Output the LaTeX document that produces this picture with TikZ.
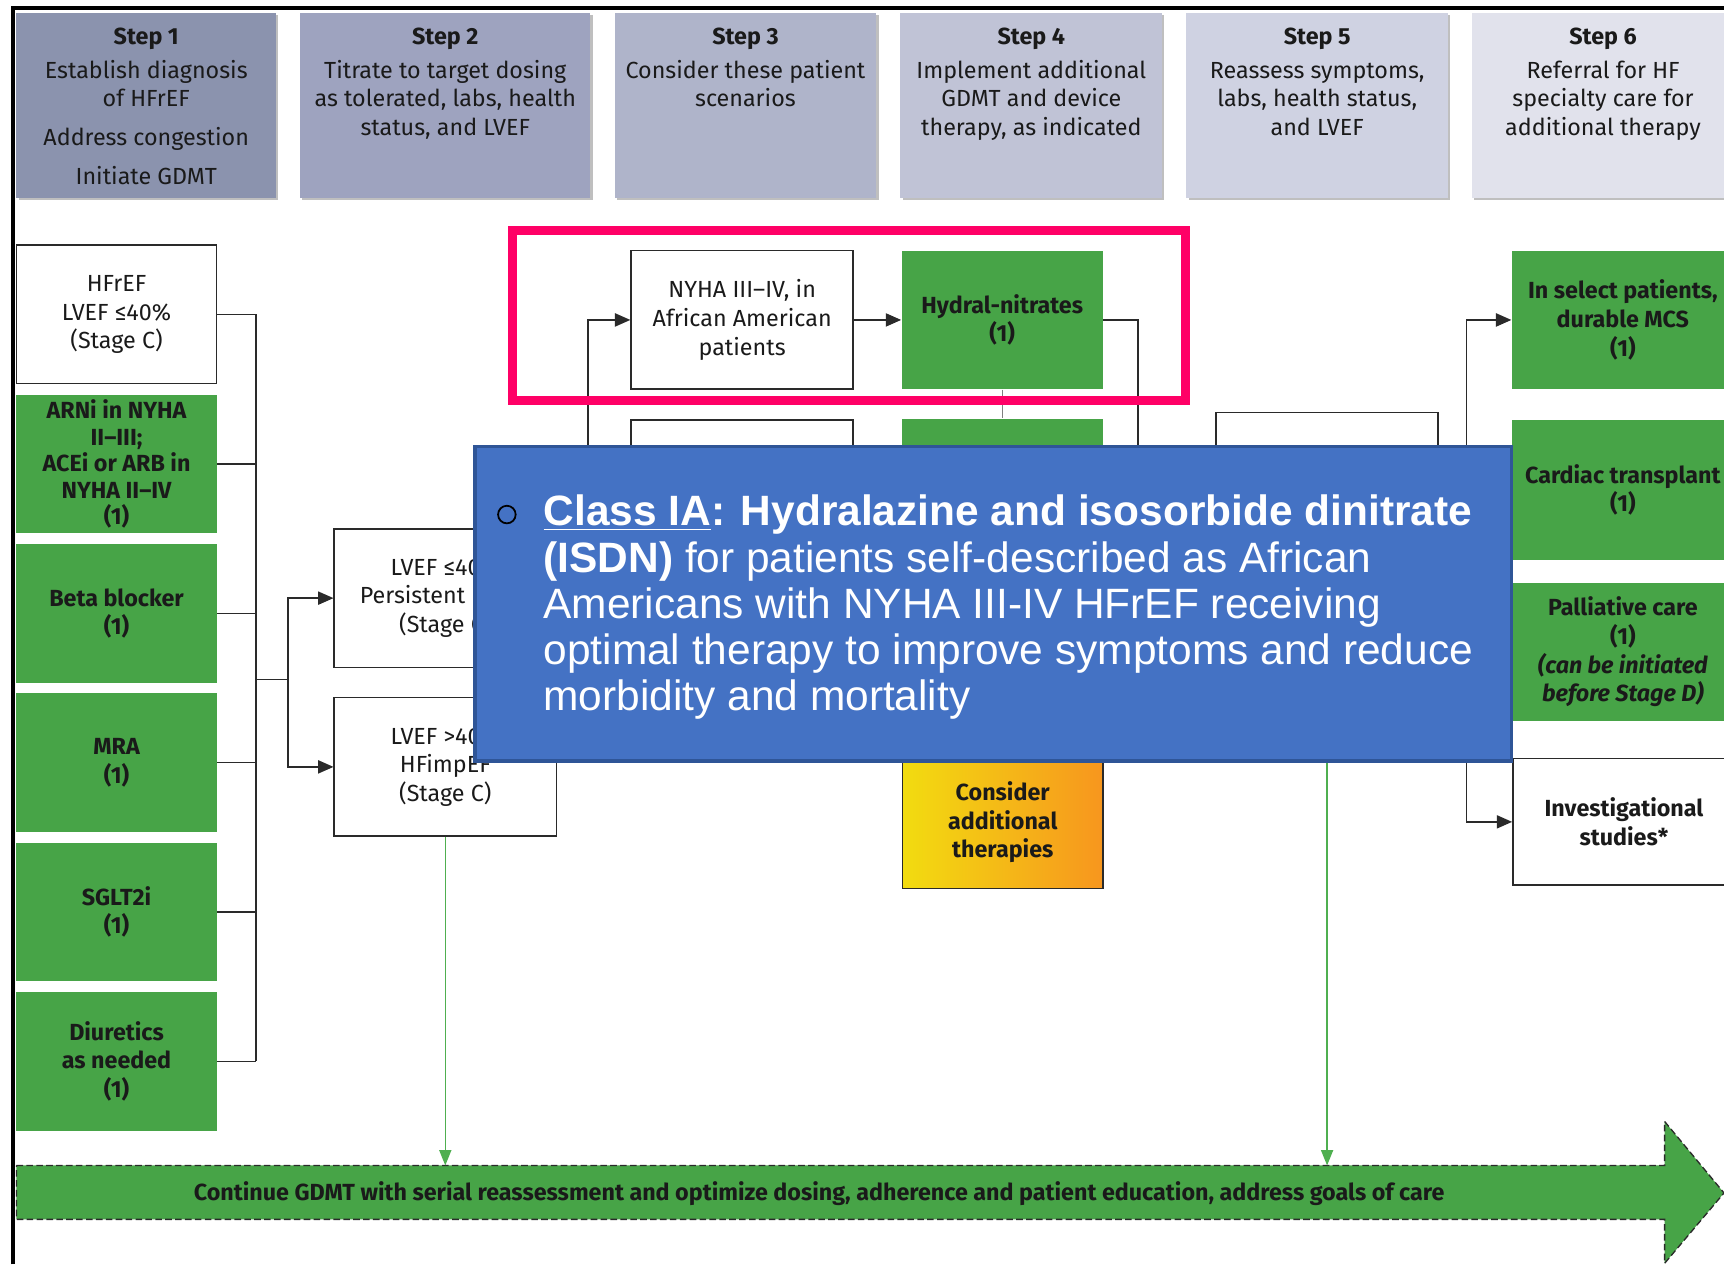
\documentclass[tikz,border=0pt]{standalone}
\usepackage{fontspec}
\setmainfont{Fira Sans}
\newfontfamily\arialfont{Liberation Sans}
\usetikzlibrary{arrows.meta,positioning,shadows}
\definecolor{StepA}{HTML}{8B93AE}
\definecolor{StepB}{HTML}{9EA3BF}
\definecolor{StepC}{HTML}{AFB4CA}
\definecolor{StepD}{HTML}{C0C3D6}
\definecolor{StepE}{HTML}{CFD2E2}
\definecolor{StepF}{HTML}{E1E2EC}
\definecolor{TextDark}{HTML}{1A1A1A}
\definecolor{BoxGreen}{HTML}{47A447}
\definecolor{ArrowGreen}{HTML}{4FAF50}
\definecolor{LineGray}{HTML}{2A2A2A}
\definecolor{HiPink}{HTML}{FF0066}
\definecolor{PopBlue}{HTML}{4472C4}
\definecolor{PopEdge}{HTML}{2F5597}
\definecolor{ThYellow}{HTML}{F2DC10}
\definecolor{ThOrange}{HTML}{F7961E}
\tikzset{>={Triangle[length=7pt,width=6pt]},every node/.style={font=\fontsize{10.6}{13}\selectfont,text=TextDark},
 stepbox/.style={fill=#1,minimum height=84pt,inner sep=0pt,drop shadow={shadow xshift=1pt,
 shadow yshift=-1pt,fill=black,opacity=.25}},
 steptext/.style={align=center,inner sep=0pt},
 plainbox/.style={draw=LineGray,line width=.7pt,fill=white,minimum width=101pt,minimum height=63pt,
 align=center,inner sep=1pt},
 greenbox/.style={fill=BoxGreen,minimum width=91pt,minimum height=63pt,align=center,inner sep=1pt,
 font=\fontsize{10.6}{13}\selectfont\bfseries},
 link/.style={draw=LineGray,line width=.7pt},
 greenlink/.style={draw=ArrowGreen,line width=.6pt,-{Triangle[length=7pt,width=5.5pt]}}}

\begin{document}
\begin{tikzpicture}[x=0.5pt,y=-0.5pt,node distance=4.5pt]
\useasboundingbox (0,0) rectangle (1568,1150);
\clip (0,0) rectangle (1568,1150);
\draw[black,line width=1.8pt] (12,1150)--(12,7)--(1568,7);
% step headers
\foreach \n/\cx/\w/\col in {1/133/118/StepA,2/405/132/StepB,3/678/119/StepC,4/938/119/StepD,5/1198/119/StepE,6/1458/119/StepF}
 {\node[stepbox=\col,minimum width=\w pt] (step\n) at (\cx,96) {};}
\node[steptext,below=6.5pt of step1.north] (step1t) {\textbf{Step 1}\\[2.5pt]Establish diagnosis\\of HFrEF\\[4.5pt]Address congestion\\[5pt]Initiate GDMT};
\node[steptext,below=6.5pt of step2.north] (step2t) {\textbf{Step 2}\\[2.5pt]Titrate to target dosing\\as tolerated, labs, health\\status, and LVEF};
\node[steptext,below=6.5pt of step3.north] (step3t) {\textbf{Step 3}\\[2.5pt]Consider these patient\\scenarios};
\node[steptext,below=6.5pt of step4.north] (step4t) {\textbf{Step 4}\\[2.5pt]Implement additional\\GDMT and device\\therapy, as indicated};
\node[steptext,below=6.5pt of step5.north] (step5t) {\textbf{Step 5}\\[2.5pt]Reassess symptoms,\\labs, health status,\\and LVEF};
\node[steptext,below=6.5pt of step6.north] (step6t) {\textbf{Step 6}\\[2.5pt]Referral for HF\\specialty care for\\additional therapy};
% step 1 column
\node[plainbox,minimum width=91pt] (hfref) at (106,286) {HFrEF\\LVEF ≤40\%\\(Stage C)};
\node[greenbox,below=of hfref,font=\fontsize{10.6}{12}\selectfont\bfseries] (arni) {ARNi in NYHA\\II–III;\\ACEi or ARB in\\NYHA II–IV\\(1)};
\node[greenbox,below=of arni] (beta) {Beta blocker\\(1)};
\node[greenbox,below=of beta] (mra) {MRA\\(1)};
\node[greenbox,below=of mra] (sglt) {SGLT2i\\(1)};
\node[greenbox,below=of sglt] (diur) {Diuretics\\as needed\\(1)};
\coordinate (busx) at (233,0);
\coordinate (split) at (262,618);
\foreach \b in {hfref,arni,beta,mra,sglt,diur}
 \draw[link] (\b.east)--(\b.east -| busx);
\draw[link] (hfref.east -| busx)--(diur.east -| busx);
\draw[link] (split -| busx)--(split);
% step 2 column
\node[plainbox] (lvefa) at (405,544) {LVEF ≤40\%\\Persistent HFrEF\\(Stage C)};
\node[plainbox] (lvefb) at (405,697.5) {LVEF >40\%\\HFimpEF\\(Stage C)};
\draw[link,->] (split)|-(lvefa.west);
\draw[link,->] (split)|-(lvefb.west);
% step 3 and 4
\node[plainbox] (nyha) at (675,291) {NYHA III–IV, in\\African American\\patients};
\node[plainbox] (scen2) at (675,445) {};
\node[greenbox,minimum width=91.5pt] (hydral) at (911.5,291) {Hydral-nitrates\\(1)};
\node[greenbox,minimum width=91.5pt] (hydralb) at (911.5,444) {};
\node[plainbox,minimum width=91pt,minimum height=60pt,left color=ThYellow,right color=ThOrange,
 middle color=ThYellow!50!ThOrange,font=\fontsize{10.6}{13}\selectfont\bfseries] (consider) at (912,748) {Consider\\additional\\therapies};
\coordinate (hydown) at (1035,560);
\draw[link,->] (lvefa.east)--++(28,0)|-(nyha.west);
\draw[link,->] (nyha)--(hydral);
\draw[draw=gray,line width=.4pt] (hydral.south)--(hydralb.north);
\draw[link] (hydral.east)-|(hydown);
% step 5 and 6
\node[plainbox] (reass) at (1207,438) {};
\node[greenbox,minimum width=101pt] (mcs) at (1476,291) {In select patients,\\durable MCS\\(1)};
\node[greenbox,minimum width=101pt,minimum height=63.5pt] (transpl) at (1476,445.5) {Cardiac transplant\\(1)};
\node[greenbox,minimum width=101pt] (pallia) at (1476,593) {Palliative care\\(1)\\\itshape(can be initiated\\\itshape before Stage D)};
\node[plainbox,minimum height=57.5pt,font=\fontsize{10.6}{13}\selectfont\bfseries] (invest) at (1477,747.5) {Investigational\\studies*};
\draw[link,->] (reass.east)--++(25,0)|-(mcs.west);
\draw[link,->] (reass.east)--++(25,0)|-(invest.west);
% continue bar
\coordinate (bartop) at (0,1060);
\fill[BoxGreen] (15,1060)--(1514,1060)--(1514,1020)--(1568,1085)--(1514,1149)--(1514,1109)--(15,1109)--cycle;
\draw[LineGray,line width=.6pt,dash pattern=on 3pt off 1.5pt] (15,1060)--(1514,1060)--(1514,1020)--(1568,1085)--(1514,1149)--(1514,1109)--(15,1109)--cycle;
\node[font=\fontsize{10.6}{13}\selectfont\bfseries] (gdmt) at (745,1086) {Continue GDMT with serial reassessment and optimize dosing, adherence and patient education, address goals of care};
\draw[greenlink] (lvefb.south)--(lvefb.south |- bartop);
\draw[greenlink] (reass.south)--(reass.south |- bartop);
% highlight and callout
\draw[HiPink,line width=4pt] (466,210) rectangle (1078,364);
\node[fill=PopBlue,draw=PopEdge,line width=1.5pt,minimum width=471.5pt,minimum height=143pt] (popup) at (903.5,549) {};
\node[circle,draw=black,line width=.8pt,minimum size=8pt,inner sep=0pt] (bullet) at (461,468) {};
\node[anchor=north west,align=left,inner sep=0pt,text=white,font=\arialfont\fontsize{19.3}{21}\selectfont] (poptxt) at (494,450)
 {\textbf{\underline{Class IA}: Hydralazine and isosorbide dinitrate}\\\textbf{(ISDN)} for patients self-described as African\\Americans with NYHA III-IV HFrEF receiving\\optimal therapy to improve symptoms and reduce\\morbidity and mortality};
\end{tikzpicture}
\end{document}
